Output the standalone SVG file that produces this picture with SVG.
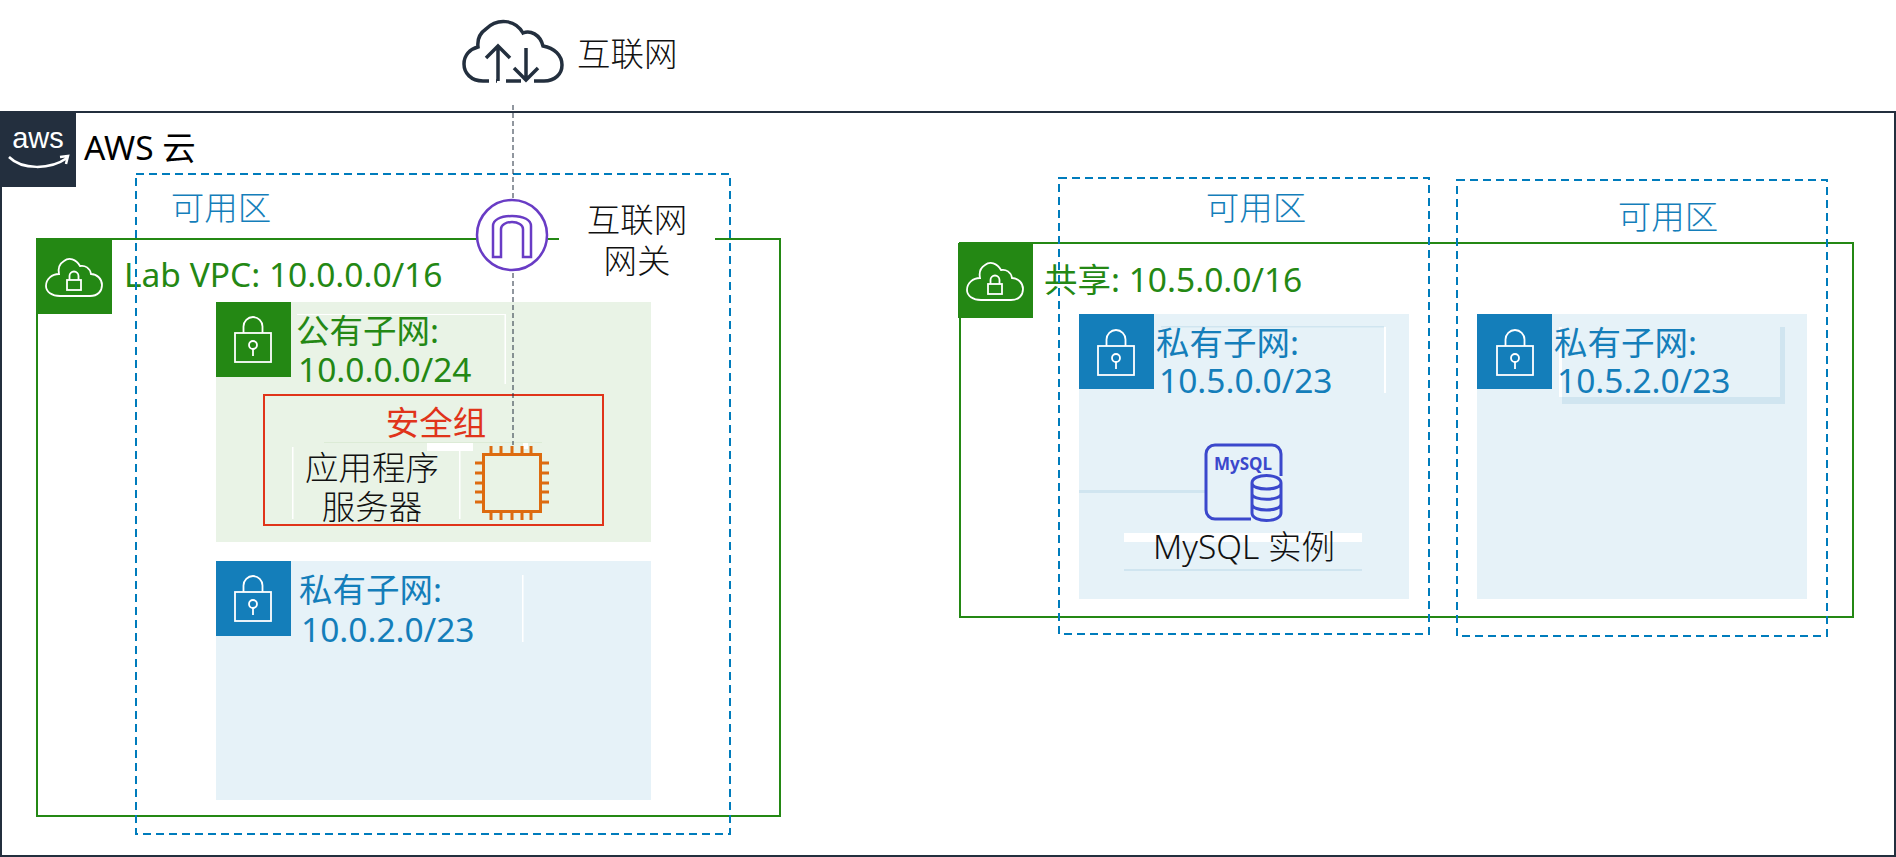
<svg xmlns="http://www.w3.org/2000/svg" width="1896" height="857" viewBox="0 0 1896 857">
<style>
text{font-family:"Noto Sans","Noto Sans CJK SC",sans-serif;font-size:33.500px;font-weight:300}
.k{fill:#111}.g{fill:#248814;font-weight:400}.b{fill:#147EBA;font-weight:400}.r{fill:#E0341A;font-weight:400}
.m{text-anchor:middle}
.az{fill:none;stroke:#007CBC;stroke-width:2;stroke-dasharray:8 5}
.vpc{fill:none;stroke:#248814;stroke-width:2}
.ic{fill:none;stroke:#fff;stroke-width:1.800}
.pg{fill:#E9F3E6}.pb{fill:#E6F2F8}.sg{fill:#248814}.sb{fill:#147EBA}
.wl{fill:#fff}.lb{fill:#D0E5F0}
.mys{fill:none;stroke:#3B48CC;stroke-width:3}
.pin{stroke:#DD6B10;stroke-width:3;fill:none}
</style>
<defs>
<g id="lock" class="ic"><path d="M-9.500 -6V-12.500a9.500 9.500 0 0 1 19 0V-6"/><rect x="-18" y="-6" width="36" height="29"/><circle cx="0" cy="6" r="4"/><path d="M0 10V17"/></g>
<g id="vcloud" class="ic"><path d="M-14 19H16C24 19 28 14 28 8C28 2 23 -3 17 -3C16 -9 11 -12 6 -11C2 -18 -5 -20 -10 -16C-15 -13 -16 -8 -15 -3C-22 -3 -28 2 -28 9C-28 15 -22 19 -14 19Z"/><rect x="-7" y="3" width="14" height="10"/><path d="M-4.500 3V-1a4.500 4.500 0 0 1 9 0V3"/></g>
</defs>
<g id="aws-cloud"><rect x="1" y="112" width="1894" height="744" fill="#fff" stroke="#232F3E" stroke-width="2"/><rect x="0" y="111" width="76" height="76" fill="#232F3E"/>
<text x="38" y="148" text-anchor="middle" fill="#fff" style="font-size:29px;font-weight:400;font-family:'Liberation Sans',sans-serif">aws</text><path d="M9 157C22 170 50 170 67 158M60 157L68 156L66 164" fill="none" stroke="#fff" stroke-width="2.500"/>
<text x="84" y="160" fill="#000" style="font-weight:400">AWS 云</text></g>
<g id="vpc-lab"><path class="vpc" d="M559 239H37V816H780V239H715"/><rect class="sg" x="36" y="238" width="76" height="76"/><use href="#vcloud" x="74" y="277"/><text class="g" x="124" y="287">Lab VPC: 10.0.0.0/16</text></g>
<g id="public-subnet"><rect class="pg" x="216" y="302" width="435" height="240"/><rect class="sg" x="216" y="302" width="75" height="75"/><use href="#lock" x="253" y="339"/>
<path class="wl" d="M297 314h209v70h-1.500v-69H297z"/><text class="g" x="296" y="343">公有子网:</text><text class="g" x="298" y="382">10.0.0.0/24</text></g>
<g id="security-group"><rect x="264" y="395" width="339" height="130" fill="none" stroke="#E0341A" stroke-width="2"/><rect x="324" y="442" width="218" height="1" fill="#DCEBD6"/><rect class="wl" x="427" y="443" width="46" height="8"/><rect class="wl" x="523" y="443" width="5" height="6"/><rect class="wl" x="292" y="447" width="1.500" height="72"/><rect class="wl" x="459" y="450" width="1.500" height="69"/><text class="r m" x="436" y="435">安全组</text></g>
<g id="app-server"><text class="k m" x="372" y="480">应用程序</text><text class="k m" x="372" y="519">服务器</text>
<rect x="483.500" y="454.500" width="57" height="57" fill="none" stroke="#DD6B10" stroke-width="3"/>
<path class="pin" d="M491 446v8M501 446v8M512 446v8M522 446v8M531 446v8M491 512v8M501 512v8M512 512v8M522 512v8M531 512v8M475 463h8M475 473h8M475 483h8M475 492h8M475 502h8M541 463h8M541 473h8M541 483h8M541 492h8M541 502h8"/></g>
<g id="private-subnet-a"><rect class="pb" x="216" y="561" width="435" height="239"/><rect class="sb" x="216" y="561" width="75" height="75"/><use href="#lock" x="253" y="598"/><rect class="wl" x="522" y="575" width="1.500" height="67"/><text class="b" x="299" y="602">私有子网:</text><text class="b" x="301" y="642">10.0.2.0/23</text></g>
<g id="az-a"><rect class="az" x="136" y="174" width="594" height="660"/><text class="b m" x="221" y="220" style="font-weight:300">可用区</text></g>
<g id="vpc-shared"><rect class="vpc" x="960" y="243" width="893" height="374"/><rect class="sg" x="958" y="243" width="75" height="75"/><use href="#vcloud" x="995" y="281"/><text class="g" x="1044" y="292">共享: 10.5.0.0/16</text></g>
<g id="private-subnet-b"><rect class="pb" x="1079" y="314" width="330" height="285"/><rect class="sb" x="1079" y="314" width="75" height="75"/><use href="#lock" x="1116" y="352"/><rect class="lb" x="1161" y="326" width="223" height="1.500"/><rect class="wl" x="1384" y="327" width="2" height="66"/><rect class="lb" x="1079" y="490" width="126" height="3"/><text class="b" x="1156" y="355">私有子网:</text><text class="b" x="1159" y="393">10.5.0.0/23</text></g>
<g id="mysql"><rect class="wl" x="1124" y="533" width="238" height="9"/><rect class="lb" x="1124" y="569" width="238" height="2"/>
<path class="mys" d="M1251 519H1215a9 9 0 0 1-9-9V454a9 9 0 0 1 9-9H1272a9 9 0 0 1 9 9V476"/><text x="1243" y="470" text-anchor="middle" fill="#3B48CC" style="font-size:17px;font-weight:700">MySQL</text>
<path class="mys" d="M1252 483C1252 473 1281 473 1281 483V513C1281 523 1252 523 1252 513ZM1252 483C1252 491 1281 491 1281 483M1252 494C1252 501 1281 501 1281 494M1252 504C1252 512 1281 512 1281 504"/>
<text class="k m" x="1244" y="559">MySQL 实例</text></g>
<g id="private-subnet-c"><rect class="pb" x="1477" y="314" width="330" height="285"/><rect class="sb" x="1477" y="314" width="75" height="75"/><use href="#lock" x="1515" y="352"/><path class="lb" d="M1780 327h5v77H1562v-7h218z"/><rect class="wl" x="1559" y="327" width="3" height="70"/><text class="b" x="1554" y="355">私有子网:</text><text class="b" x="1557" y="393">10.5.2.0/23</text></g>
<g id="az-b"><rect class="az" x="1059" y="178" width="370" height="456"/><text class="b m" x="1256" y="220" style="font-weight:300">可用区</text></g>
<g id="az-c"><rect class="az" x="1457" y="180" width="370" height="456"/><text class="b m" x="1668" y="229" style="font-weight:300">可用区</text></g>
<g id="connectors"><path d="M513 105V445" fill="none" stroke="#232F3E" stroke-width="1" stroke-dasharray="5 3"/></g>
<g id="internet"><path d="M489 81H483C471 81 464 73 464 64C464 55 470 49 478 47C477 38 480 33 486 29C497 18 515 19 523 33C530 30 540 34 543 46C554 48 562 55 562 65C562 74 555 81 544 81H534M521 81H506M497 81H496" fill="none" stroke="#232F3E" stroke-width="3.500"/><path d="M498 81V47M486 58L498 46L510 58M526 48V80M514 68L526 80L538 68" fill="none" stroke="#232F3E" stroke-width="3.500"/><text class="k" x="577" y="66">互联网</text></g>
<g id="internet-gateway"><circle cx="512" cy="235" r="36" fill="#fff"/><circle cx="512" cy="235" r="35" fill="none" stroke="#693CC5" stroke-width="2.500"/><path d="M493 257V226C493 220 500 216 512 216C524 216 531 220 531 226V257H523V229C523 225 518 222 512 222C506 222 501 225 501 229V257Z" fill="none" stroke="#693CC5" stroke-width="2.500"/>
<path d="M559 239H715" stroke="#fff" stroke-width="3"/><text class="k m" x="637" y="232">互联网</text><text class="k m" x="637" y="273">网关</text></g>
</svg>
